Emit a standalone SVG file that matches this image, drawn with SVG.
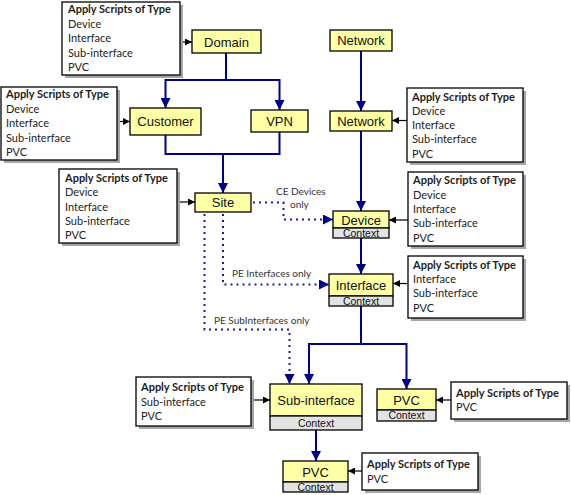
<svg xmlns="http://www.w3.org/2000/svg" width="571" height="495" viewBox="0 0 571 495">
<defs>
<marker id="ab" markerUnits="userSpaceOnUse" markerWidth="10" markerHeight="10" refX="10" refY="5" orient="auto" viewBox="0 0 10 10"><path d="M0,0 L10,5 L0,10 z" fill="#00008B"/></marker>
<marker id="ak" markerUnits="userSpaceOnUse" markerWidth="7" markerHeight="7" refX="7" refY="3.5" orient="auto" viewBox="0 0 7 7"><path d="M0,0 L7,3.5 L0,7 z" fill="#000"/></marker>
</defs>
<style>
.sh{fill:#A6A6A6}
.sb{fill:#fff;stroke:#000;stroke-width:1.3}
.st{font-family:Lato,"Liberation Sans",sans-serif;font-size:11px;fill:#222}
.sh1{font-weight:bold}
.nd{fill:#FFFFA6;stroke:#000;stroke-width:1.3}
.cx{fill:#E3E3E3;stroke:#000;stroke-width:1.3}
.nt{font-family:"Liberation Sans",Arial,sans-serif;font-size:13px;fill:#111;text-anchor:middle}
.ct{font-family:"Liberation Sans",Arial,sans-serif;font-size:10.5px;fill:#111;text-anchor:middle}
.bl{fill:none;stroke:#00008B;stroke-width:2}
.dt{fill:none;stroke:#1a1aa0;stroke-width:2;stroke-dasharray:2 4}
.bk{fill:none;stroke:#000;stroke-width:1.2}
.lb{font-family:Lato,"Liberation Sans",sans-serif;font-size:10px;fill:#333}
</style>

<g id="connectors">
<path class="bl" d="M226,53 V80 H165.5 V108" marker-end="url(#ab)"/>
<path class="bl" d="M226,80 H279.5 V110" marker-end="url(#ab)"/>
<path class="bl" d="M165.5,135 V154 H279.5 V132"/>
<path class="bl" d="M223,154 V193" marker-end="url(#ab)"/>
<path class="bl" d="M361,51 V111" marker-end="url(#ab)"/>
<path class="bl" d="M361,131 V211" marker-end="url(#ab)"/>
<path class="bl" d="M361,238 V274" marker-end="url(#ab)"/>
<path class="bl" d="M361,306 V344 H309 V384" marker-end="url(#ab)"/>
<path class="bl" d="M361,344 H406.5 V389" marker-end="url(#ab)"/>
<path class="bl" d="M316,430 V461" marker-end="url(#ab)"/>
<path class="dt" d="M253,202.5 H283.5 V219.5 H333" marker-end="url(#ab)"/>
<path class="dt" d="M223,214 V284.5 H329" marker-end="url(#ab)"/>
<path class="dt" d="M204.5,214 V329.5 H289.5 V384" marker-end="url(#ab)"/>
<path class="bk" d="M180,42 H192" marker-end="url(#ak)"/>
<path class="bk" d="M117,121.5 H130" marker-end="url(#ak)"/>
<path class="bk" d="M177,202 H195" marker-end="url(#ak)"/>
<path class="bk" d="M407,120.5 H392" marker-end="url(#ak)"/>
<path class="bk" d="M408,220 H389" marker-end="url(#ak)"/>
<path class="bk" d="M408,283.5 H393" marker-end="url(#ak)"/>
<path class="bk" d="M451,400 H436" marker-end="url(#ak)"/>
<path class="bk" d="M251,400 H270" marker-end="url(#ak)"/>
<path class="bk" d="M362,471 H348" marker-end="url(#ak)"/>
<text class="lb" x="276" y="195">CE Devices</text>
<text class="lb" x="290" y="208">only</text>
<text class="lb" x="232" y="277">PE Interfaces only</text>
<text class="lb" x="214" y="324">PE SubInterfaces only</text>
</g>

<g id="s-domain">
<rect class="sh" x="65" y="5" width="118" height="73"/>
<rect class="sb" x="62" y="2" width="118" height="73"/>
<text class="st" x="68"><tspan class="sh1" y="13">Apply Scripts of Type</tspan><tspan x="68" y="28">Device</tspan><tspan x="68" y="42">Interface</tspan><tspan x="68" y="57">Sub-interface</tspan><tspan x="68" y="71">PVC</tspan></text>
</g>
<g id="s-customer">
<rect class="sh" x="4" y="90" width="116" height="73"/>
<rect class="sb" x="1" y="87" width="116" height="73"/>
<text class="st" x="6"><tspan class="sh1" y="98">Apply Scripts of Type</tspan><tspan x="6" y="113">Device</tspan><tspan x="6" y="127">Interface</tspan><tspan x="6" y="142">Sub-interface</tspan><tspan x="6" y="156">PVC</tspan></text>
</g>
<g id="s-site">
<rect class="sh" x="62" y="172" width="118" height="74"/>
<rect class="sb" x="59" y="169" width="118" height="74"/>
<text class="st" x="65"><tspan class="sh1" y="182">Apply Scripts of Type</tspan><tspan x="65" y="196">Device</tspan><tspan x="65" y="211">Interface</tspan><tspan x="65" y="225">Sub-interface</tspan><tspan x="65" y="239">PVC</tspan></text>
</g>
<g id="s-network">
<rect class="sh" x="410" y="91" width="116" height="74"/>
<rect class="sb" x="407" y="88" width="116" height="74"/>
<text class="st" x="412"><tspan class="sh1" y="101">Apply Scripts of Type</tspan><tspan x="412" y="115">Device</tspan><tspan x="412" y="129">Interface</tspan><tspan x="412" y="143">Sub-interface</tspan><tspan x="412" y="158">PVC</tspan></text>
</g>
<g id="s-device">
<rect class="sh" x="411" y="175" width="115" height="74"/>
<rect class="sb" x="408" y="172" width="115" height="74"/>
<text class="st" x="413"><tspan class="sh1" y="184">Apply Scripts of Type</tspan><tspan x="413" y="199">Device</tspan><tspan x="413" y="213">Interface</tspan><tspan x="413" y="227">Sub-interface</tspan><tspan x="413" y="242">PVC</tspan></text>
</g>
<g id="s-interface">
<rect class="sh" x="411" y="259" width="115" height="62"/>
<rect class="sb" x="408" y="256" width="115" height="62"/>
<text class="st" x="413"><tspan class="sh1" y="269">Apply Scripts of Type</tspan><tspan x="413" y="283">Interface</tspan><tspan x="413" y="297">Sub-interface</tspan><tspan x="413" y="312">PVC</tspan></text>
</g>
<g id="s-pvc1">
<rect class="sh" x="454" y="385" width="116" height="37"/>
<rect class="sb" x="451" y="382" width="116" height="37"/>
<text class="st" x="456"><tspan class="sh1" y="397">Apply Scripts of Type</tspan><tspan x="456" y="411">PVC</tspan></text>
</g>
<g id="s-subif">
<rect class="sh" x="139" y="380" width="115" height="49"/>
<rect class="sb" x="136" y="377" width="115" height="49"/>
<text class="st" x="141"><tspan class="sh1" y="391">Apply Scripts of Type</tspan><tspan x="141" y="406">Sub-interface</tspan><tspan x="141" y="420">PVC</tspan></text>
</g>
<g id="s-pvc2">
<rect class="sh" x="365" y="456" width="116" height="37"/>
<rect class="sb" x="362" y="453" width="116" height="37"/>
<text class="st" x="367"><tspan class="sh1" y="468">Apply Scripts of Type</tspan><tspan x="367" y="483">PVC</tspan></text>
</g>

<g id="n-domain"><rect class="nd" x="192" y="30" width="69" height="23"/><text class="nt" x="226.5" y="46.5">Domain</text></g>
<g id="n-customer"><rect class="nd" x="130" y="108" width="71" height="27"/><text class="nt" x="165.5" y="126">Customer</text></g>
<g id="n-vpn"><rect class="nd" x="251" y="110" width="57" height="22"/><text class="nt" x="279.5" y="125.5">VPN</text></g>
<g id="n-network1"><rect class="nd" x="330" y="30" width="62" height="21"/><text class="nt" x="361" y="45">Network</text></g>
<g id="n-network2"><rect class="nd" x="330" y="111" width="62" height="20"/><text class="nt" x="361" y="125.5">Network</text></g>
<g id="n-site"><rect class="nd" x="195" y="193" width="56" height="19"/><text class="nt" x="223" y="207">Site</text></g>
<g id="n-device"><rect class="nd" x="333" y="211" width="56" height="17"/><rect class="cx" x="333" y="228" width="56" height="10"/><text class="nt" x="361" y="224.5">Device</text><text class="ct" x="361" y="236.5">Context</text></g>
<g id="n-interface"><rect class="nd" x="329" y="274" width="64" height="22"/><rect class="cx" x="329" y="296" width="64" height="10"/><text class="nt" x="361" y="289.5">Interface</text><text class="ct" x="361" y="304.5">Context</text></g>
<g id="n-subif"><rect class="nd" x="270" y="384" width="92" height="32"/><rect class="cx" x="270" y="416" width="92" height="14"/><text class="nt" x="316" y="404.5">Sub-interface</text><text class="ct" x="316" y="427">Context</text></g>
<g id="n-pvc1"><rect class="nd" x="377" y="389" width="59" height="21"/><rect class="cx" x="377" y="410" width="59" height="11"/><text class="nt" x="406.5" y="404.5">PVC</text><text class="ct" x="406.5" y="419">Context</text></g>
<g id="n-pvc2"><rect class="nd" x="283" y="461" width="65" height="21"/><rect class="cx" x="283" y="482" width="65" height="10"/><text class="nt" x="315.5" y="476.5">PVC</text><text class="ct" x="315.5" y="490.5">Context</text></g>
</svg>
